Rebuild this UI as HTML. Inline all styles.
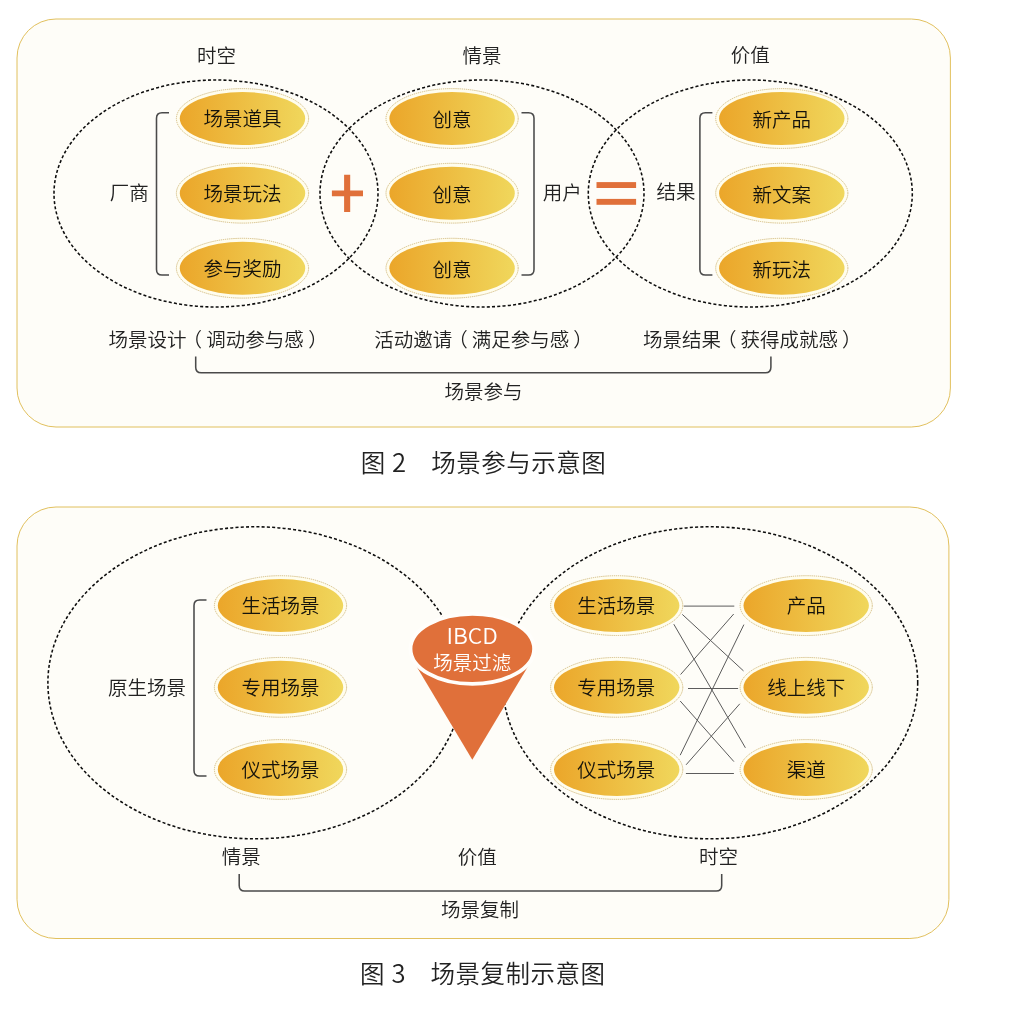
<!DOCTYPE html>
<html lang="zh-CN">
<head>
<meta charset="utf-8">
<title>场景参与示意图 / 场景复制示意图</title>
<style>
html,body{margin:0;padding:0;background:#fff;}
body{width:1028px;height:1036px;overflow:hidden;}
svg{display:block;will-change:transform;}
.panel{fill:#fefdf8;stroke:#deb94c;stroke-width:0.9;}
.dash{fill:none;stroke:#0d0d0d;stroke-width:1.55;stroke-dasharray:3.05 2.2;}
.ring{fill:#fffdee;stroke:#cfb577;stroke-width:0.9;stroke-dasharray:1.3 0.8;}
.t{font-family:"Noto Sans CJK SC DemiLight", "Noto Sans CJK SC", "Liberation Sans", sans-serif;font-weight:300;font-size:19.5px;fill:#222;}
.ov{font-family:"Noto Sans CJK SC DemiLight", "Noto Sans CJK SC", "Liberation Sans", sans-serif;fill:#15130c;}
.w{font-family:"Noto Sans CJK SC DemiLight", "Noto Sans CJK SC", "Liberation Sans", sans-serif;font-weight:300;font-size:19.5px;fill:#fff;}
.lat{font-size:21.3px;}
.cap{font-family:"Noto Sans CJK SC DemiLight", "Noto Sans CJK SC", "Liberation Sans", sans-serif;font-weight:300;font-size:24.5px;fill:#222;}
.num{font-size:25.6px;}
.sp{letter-spacing:0.5px;}
.br{fill:none;stroke:#4a4a4a;stroke-width:1.55;}
.ln{stroke:#5c5c5c;stroke-width:1;}
</style>
</head>
<body>
<svg width="1028" height="1036" viewBox="0 0 1028 1036">
<defs>
<linearGradient id="gold" x1="0" y1="0" x2="1" y2="0">
<stop offset="0" stop-color="#eba62a"/>
<stop offset="1" stop-color="#f0d75c"/>
</linearGradient>
</defs>
<rect width="1028" height="1036" fill="#fff"/>
<rect x="17" y="19" width="933.4" height="408" rx="39" ry="39" class="panel"/>
<ellipse cx="216" cy="193.5" rx="162" ry="113.5" class="dash"/>
<ellipse cx="482" cy="193.5" rx="162" ry="113.5" class="dash"/>
<ellipse cx="750.3" cy="193.5" rx="162" ry="113.5" class="dash"/>
<text x="216.6" y="62.7" class="t" text-anchor="middle">时空</text>
<text x="482" y="62.5" class="t" text-anchor="middle">情景</text>
<text x="750.3" y="62.1" class="t" text-anchor="middle">价值</text>
<ellipse cx="242.5" cy="118.5" rx="66.1" ry="29.9" class="ring"/>
<ellipse cx="242.5" cy="118.5" rx="62.7" ry="26.5" fill="url(#gold)"/>
<text x="242.5" y="126.3" class="t ov" text-anchor="middle">场景道具</text>
<ellipse cx="452.1" cy="118.5" rx="66.1" ry="29.9" class="ring"/>
<ellipse cx="452.1" cy="118.5" rx="62.7" ry="26.5" fill="url(#gold)"/>
<text x="452.1" y="127.1" class="t ov" text-anchor="middle">创意</text>
<ellipse cx="781.8" cy="118.5" rx="66.1" ry="29.9" class="ring"/>
<ellipse cx="781.8" cy="118.5" rx="62.7" ry="26.5" fill="url(#gold)"/>
<text x="781.8" y="126.8" class="t ov" text-anchor="middle">新产品</text>
<ellipse cx="242.5" cy="193.2" rx="66.1" ry="29.9" class="ring"/>
<ellipse cx="242.5" cy="193.2" rx="62.7" ry="26.5" fill="url(#gold)"/>
<text x="242.5" y="201.0" class="t ov" text-anchor="middle">场景玩法</text>
<ellipse cx="452.1" cy="193.2" rx="66.1" ry="29.9" class="ring"/>
<ellipse cx="452.1" cy="193.2" rx="62.7" ry="26.5" fill="url(#gold)"/>
<text x="452.1" y="201.8" class="t ov" text-anchor="middle">创意</text>
<ellipse cx="781.8" cy="193.2" rx="66.1" ry="29.9" class="ring"/>
<ellipse cx="781.8" cy="193.2" rx="62.7" ry="26.5" fill="url(#gold)"/>
<text x="781.8" y="201.5" class="t ov" text-anchor="middle">新文案</text>
<ellipse cx="242.5" cy="268.2" rx="66.1" ry="29.9" class="ring"/>
<ellipse cx="242.5" cy="268.2" rx="62.7" ry="26.5" fill="url(#gold)"/>
<text x="242.5" y="276.0" class="t ov" text-anchor="middle">参与奖励</text>
<ellipse cx="452.1" cy="268.2" rx="66.1" ry="29.9" class="ring"/>
<ellipse cx="452.1" cy="268.2" rx="62.7" ry="26.5" fill="url(#gold)"/>
<text x="452.1" y="276.8" class="t ov" text-anchor="middle">创意</text>
<ellipse cx="781.8" cy="268.2" rx="66.1" ry="29.9" class="ring"/>
<ellipse cx="781.8" cy="268.2" rx="62.7" ry="26.5" fill="url(#gold)"/>
<text x="781.8" y="276.5" class="t ov" text-anchor="middle">新玩法</text>
<path class="br" d="M169.0 112.7 H162.0 Q156.5 112.7 156.5 118.2 V269.4 Q156.5 274.9 162.0 274.9 H169.0"/>
<path class="br" d="M521.5 112.7 H528.5 Q534 112.7 534 118.2 V269.4 Q534 274.9 528.5 274.9 H521.5"/>
<path class="br" d="M712.4 112.7 H705.4 Q699.9 112.7 699.9 118.2 V269.4 Q699.9 274.9 705.4 274.9 H712.4"/>
<text x="129.3" y="199.9" class="t" text-anchor="middle">厂商</text>
<text x="562.3" y="200.4" class="t" text-anchor="middle">用户</text>
<text x="676" y="199.4" class="t" text-anchor="middle">结果</text>
<path fill="#e0703a" d="M344.1 174.8h6.1v15.6h12.8v5.8h-12.8v15.8h-6.1v-15.8h-12.2v-5.8h12.2z"/>
<rect x="596.5" y="182.1" width="39.6" height="5.9" fill="#e0703a"/>
<rect x="596.5" y="198.9" width="39.6" height="5.9" fill="#e0703a"/>
<text x="108.6" y="346.6" class="t" text-anchor="start">场景设计<tspan dx="-4">（</tspan><tspan dx="4">调动参与感</tspan><tspan dx="4.7">）</tspan></text>
<text x="374.3" y="346.6" class="t" text-anchor="start">活动邀请<tspan dx="-4">（</tspan><tspan dx="4">满足参与感</tspan><tspan dx="4">）</tspan></text>
<text x="643" y="346.5" class="t" text-anchor="start">场景结果<tspan dx="-4">（</tspan><tspan dx="4">获得成就感</tspan><tspan dx="4">）</tspan></text>
<path class="br" d="M195.7 356.5 V367.2 Q195.7 372.7 201.2 372.7 H765.4 Q770.9 372.7 770.9 367.2 V356.5"/>
<text x="483.5" y="398.6" class="t" text-anchor="middle">场景参与</text>
<text y="471.5" class="cap"><tspan x="360.8">图 </tspan><tspan x="392.1" class="num">2　</tspan><tspan x="431.3" class="sp">场景参与示意图</tspan></text>
<rect x="17" y="507" width="931.9" height="431.5" rx="39" ry="39" class="panel"/>
<ellipse cx="255.1" cy="682.8" rx="207.2" ry="156" class="dash"/>
<ellipse cx="710.2" cy="682.8" rx="207.5" ry="156" class="dash"/>
<ellipse cx="280.5" cy="605.6" rx="66.1" ry="29.9" class="ring"/>
<ellipse cx="280.5" cy="605.6" rx="62.7" ry="26.5" fill="url(#gold)"/>
<text x="280.5" y="613.0" class="t ov" text-anchor="middle">生活场景</text>
<ellipse cx="616.7" cy="605.6" rx="66.1" ry="29.9" class="ring"/>
<ellipse cx="616.7" cy="605.6" rx="62.7" ry="26.5" fill="url(#gold)"/>
<text x="616.3" y="613.0" class="t ov" text-anchor="middle">生活场景</text>
<ellipse cx="806.2" cy="605.6" rx="66.1" ry="29.9" class="ring"/>
<ellipse cx="806.2" cy="605.6" rx="62.7" ry="26.5" fill="url(#gold)"/>
<text x="806.2" y="613.0" class="t ov" text-anchor="middle">产品</text>
<ellipse cx="280.5" cy="687.35" rx="66.1" ry="29.9" class="ring"/>
<ellipse cx="280.5" cy="687.35" rx="62.7" ry="26.5" fill="url(#gold)"/>
<text x="280.5" y="694.75" class="t ov" text-anchor="middle">专用场景</text>
<ellipse cx="616.7" cy="687.35" rx="66.1" ry="29.9" class="ring"/>
<ellipse cx="616.7" cy="687.35" rx="62.7" ry="26.5" fill="url(#gold)"/>
<text x="616.3" y="694.75" class="t ov" text-anchor="middle">专用场景</text>
<ellipse cx="806.2" cy="687.35" rx="66.1" ry="29.9" class="ring"/>
<ellipse cx="806.2" cy="687.35" rx="62.7" ry="26.5" fill="url(#gold)"/>
<text x="806.2" y="694.75" class="t ov" text-anchor="middle">线上线下</text>
<ellipse cx="280.5" cy="769.5" rx="66.1" ry="29.9" class="ring"/>
<ellipse cx="280.5" cy="769.5" rx="62.7" ry="26.5" fill="url(#gold)"/>
<text x="280.5" y="776.9" class="t ov" text-anchor="middle">仪式场景</text>
<ellipse cx="616.7" cy="769.5" rx="66.1" ry="29.9" class="ring"/>
<ellipse cx="616.7" cy="769.5" rx="62.7" ry="26.5" fill="url(#gold)"/>
<text x="616.3" y="776.9" class="t ov" text-anchor="middle">仪式场景</text>
<ellipse cx="806.2" cy="769.5" rx="66.1" ry="29.9" class="ring"/>
<ellipse cx="806.2" cy="769.5" rx="62.7" ry="26.5" fill="url(#gold)"/>
<text x="806.2" y="776.9" class="t ov" text-anchor="middle">渠道</text>
<path class="br" d="M206.5 600 H199.5 Q194 600 194 605.5 V770.4 Q194 775.9 199.5 775.9 H206.5"/>
<text x="147" y="694.9" class="t" text-anchor="middle">原生场景</text>
<line x1="683.8" y1="606.1" x2="734.3" y2="606.1" class="ln"/>
<line x1="688" y1="688.5" x2="738.1" y2="688.5" class="ln"/>
<line x1="685.9" y1="773.5" x2="733.9" y2="773.5" class="ln"/>
<line x1="682.3" y1="614.4" x2="743.5" y2="670.9" class="ln"/>
<line x1="673.8" y1="624.2" x2="745.4" y2="747.8" class="ln"/>
<line x1="680.6" y1="674.5" x2="733.7" y2="614" class="ln"/>
<line x1="680.2" y1="701" x2="733.9" y2="761.6" class="ln"/>
<line x1="680.2" y1="755.2" x2="743.9" y2="624.6" class="ln"/>
<line x1="686.1" y1="764.8" x2="739.8" y2="703.8" class="ln"/>
<path fill="#e0703a" d="M412.7 660 L531.9 660 L472.3 759.7 Z"/>
<ellipse cx="472.3" cy="648.9" rx="61.8" ry="35" fill="#e0703a" stroke="#fffefb" stroke-width="3.8"/>
<text x="446.4" y="644" class="w lat" textLength="51.3" lengthAdjust="spacingAndGlyphs">IBCD</text>
<text x="472.3" y="669.7" class="w" text-anchor="middle">场景过滤</text>
<text x="241.2" y="864.0" class="t" text-anchor="middle">情景</text>
<text x="477.3" y="864.0" class="t" text-anchor="middle">价值</text>
<text x="718.5" y="864.0" class="t" text-anchor="middle">时空</text>
<path class="br" d="M239.2 874 V885.5 Q239.2 891 244.7 891 H716.2 Q721.7 891 721.7 885.5 V874"/>
<text x="480" y="917.0" class="t" text-anchor="middle">场景复制</text>
<text y="982.7" class="cap"><tspan x="360.1">图 </tspan><tspan x="391.4" class="num">3　</tspan><tspan x="430.6" class="sp">场景复制示意图</tspan></text>
</svg>
</body>
</html>
